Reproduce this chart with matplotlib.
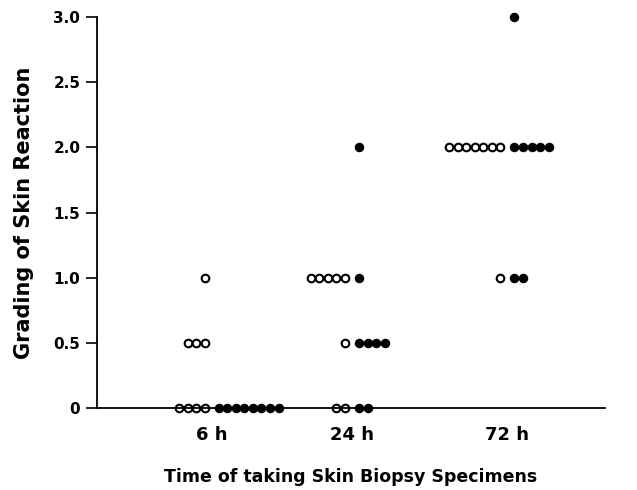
import matplotlib
matplotlib.use("Agg")
import matplotlib.pyplot as plt
from collections import Counter

# ---- data ----
time_labels = ["6 h", "24 h", "72 h"]
open_grades = [
    [1.0, 0.5, 0.5, 0.5, 0.0, 0.0, 0.0, 0.0],   # 6 h
    [1.0, 1.0, 1.0, 1.0, 1.0, 0.5, 0.0, 0.0],   # 24 h
    [2.0, 2.0, 2.0, 2.0, 2.0, 2.0, 2.0, 1.0],   # 72 h
]
filled_grades = [
    [0.0, 0.0, 0.0, 0.0, 0.0, 0.0, 0.0, 0.0],   # 6 h
    [2.0, 1.0, 0.5, 0.5, 0.5, 0.5, 0.0, 0.0],   # 24 h
    [3.0, 2.0, 2.0, 2.0, 2.0, 2.0, 1.0, 1.0],   # 72 h
]
y_ticks = [0, 0.5, 1.0, 1.5, 2.0, 2.5, 3.0]
y_tick_labels = ["0", "0.5", "1.0", "1.5", "2.0", "2.5", "3.0"]

# ---- layout ----
cat_pos = [0.226, 0.502, 0.808]
spacing = 0.0168
half_gap = 0.0138

plt.rcParams['font.family'] = ['DejaVu Sans']
plt.rcParams['font.weight'] = 'bold'

fig = plt.figure(figsize=(6.37, 4.90), dpi=100)
ax = fig.add_axes([97/637, (490-408)/490, (605-97)/637, (408-17)/490])


def offsets(values, center, side):
    xs, ys = [], []
    counts = Counter(values)
    for v, n in counts.items():
        for k in range(n):
            if side < 0:
                xs.append(center - half_gap - (n - 1 - k) * spacing)
            else:
                xs.append(center + half_gap + k * spacing)
            ys.append(v)
    return xs, ys


for i, c in enumerate(cat_pos):
    xo, yo = offsets(open_grades[i], c, -1)
    ax.scatter(xo, yo, s=30, facecolors='white', edgecolors='black',
               linewidths=1.5, clip_on=False, zorder=2)
    xf, yf = offsets(filled_grades[i], c, +1)
    ax.scatter(xf, yf, s=34, facecolors='black', edgecolors='black',
               linewidths=1.0, clip_on=False, zorder=2)

ax.set_xlim(0, 1)
ax.set_ylim(0, 3)
for s in ['top', 'right']:
    ax.spines[s].set_visible(False)
for s in ['left', 'bottom']:
    ax.spines[s].set_linewidth(1.3)
    ax.spines[s].set_zorder(3)

ax.set_yticks(y_ticks)
ax.set_yticklabels(y_tick_labels, fontsize=11, fontweight='bold')
ax.tick_params(axis='y', length=8, width=1.2, pad=4)
ax.set_xticks(cat_pos)
ax.set_xticklabels(time_labels, fontsize=13, fontweight='bold')
ax.tick_params(axis='x', length=0, pad=13)

ax.set_xlabel("Time of taking Skin Biopsy Specimens", fontsize=12.5,
              fontweight='bold', labelpad=17)
ax.set_ylabel("Grading of Skin Reaction", fontsize=15, fontweight='bold',
              labelpad=14)

fig.savefig("out.png", dpi=100)
